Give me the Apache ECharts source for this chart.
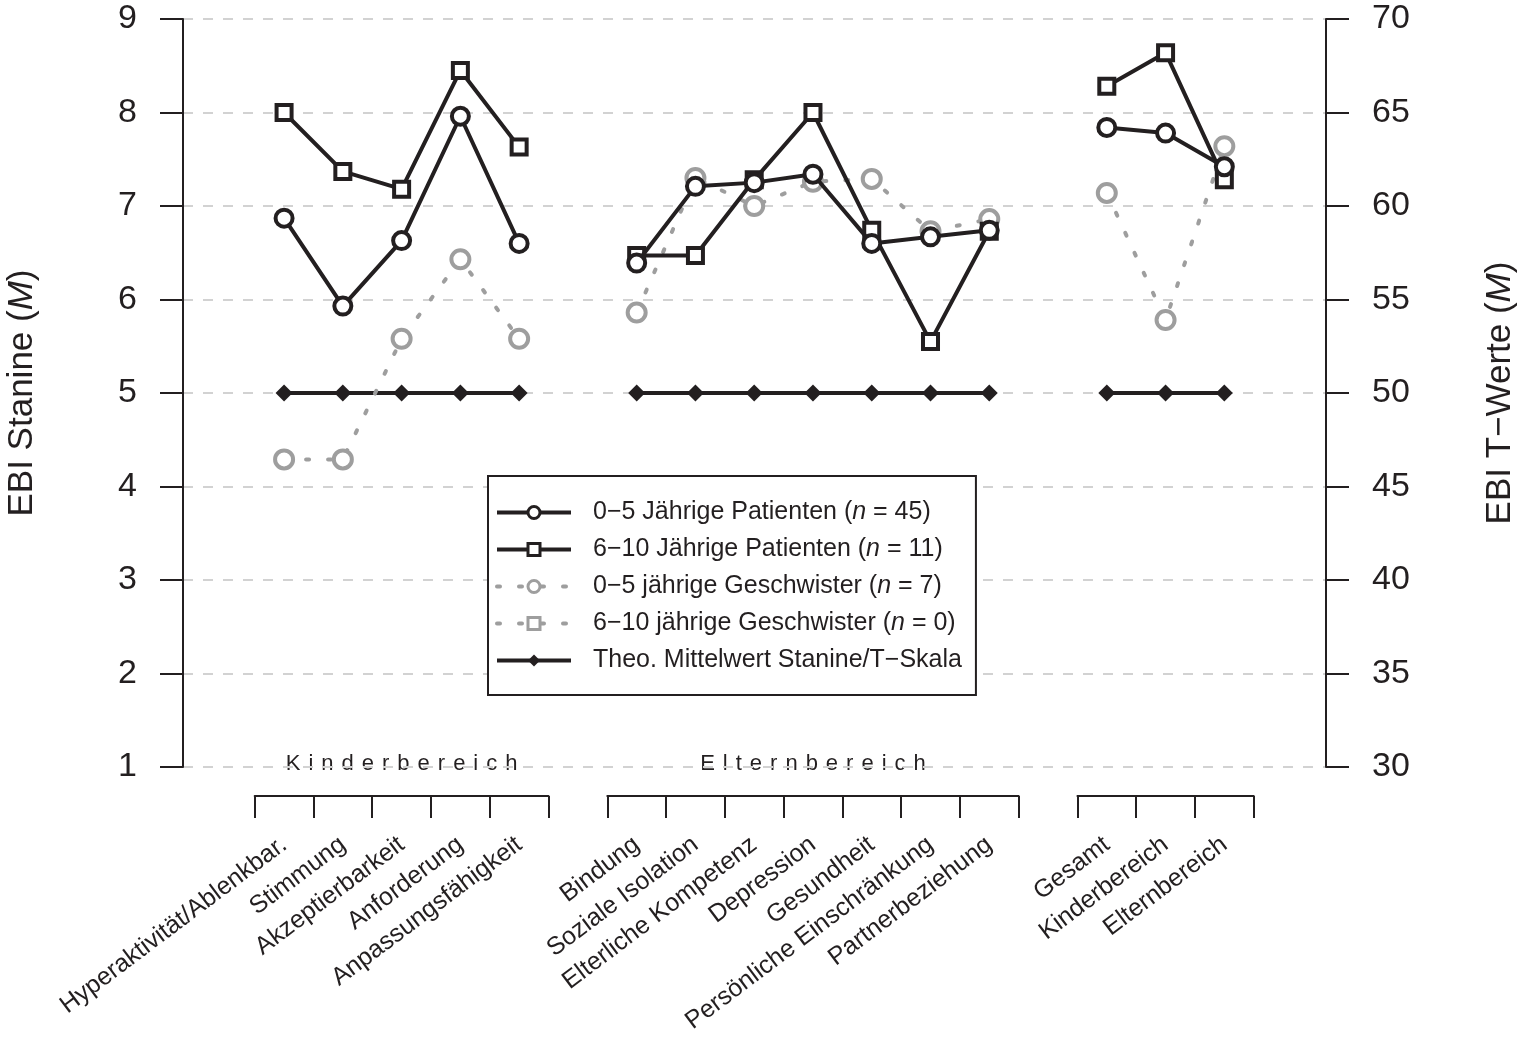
<!DOCTYPE html>
<html><head><meta charset="utf-8">
<script src="https://cdn.jsdelivr.net/npm/echarts@6/dist/echarts.min.js"></script>
<style>html,body{margin:0;padding:0;background:#fff}#c{width:1524px;height:1046px}</style>
</head><body><div id="c"></div><script>
// ---- data ----
const kinderCats = ['Hyperaktivität/Ablenkbar.', 'Stimmung', 'Akzeptierbarkeit', 'Anforderung', 'Anpassungsfähigkeit'];
const elternCats = ['Bindung', 'Soziale Isolation', 'Elterliche Kompetenz', 'Depression', 'Gesundheit', 'Persönliche Einschränkung', 'Partnerbeziehung'];
const gesamtCats = ['Gesamt', 'Kinderbereich', 'Elternbereich'];
const groupLabels = ['Kinderbereich', 'Elternbereich'];

const patienten05   = [6.87, 5.93, 6.63, 7.96, 6.60,  6.39, 7.21, 7.25, 7.34, 6.60, 6.67, 6.74,  7.84, 7.78, 7.42];
const patienten610  = [8.00, 7.37, 7.18, 8.45, 7.63,  6.47, 6.47, 7.28, 8.00, 6.74, 5.55, 6.73,  8.28, 8.64, 7.28];
const geschwister05 = [4.29, 4.29, 5.58, 6.43, 5.58,  5.86, 7.30, 7.00, 7.26, 7.29, 6.73, 6.86,  7.14, 5.78, 7.64];
const geschwister610 = [];
const theoMittel    = [5, 5, 5, 5, 5,  5, 5, 5, 5, 5, 5, 5,  5, 5, 5];

const staninTicks = [1, 2, 3, 4, 5, 6, 7, 8, 9];
const tWertTicks = [30, 35, 40, 45, 50, 55, 60, 65, 70];

const seriesNames = [
  '0\u22125 Jährige Patienten (n = 45)',
  '6\u221210 Jährige Patienten (n = 11)',
  '0\u22125 jährige Geschwister (n = 7)',
  '6\u221210 jährige Geschwister (n = 0)',
  'Theo. Mittelwert Stanine/T\u2212Skala'
];

// ---- layout ----
const INK = '#231f20';
const GRAY = '#9e9e9e';
const FONT = '"Liberation Sans", Arial, Helvetica, sans-serif';
const G = {left: 183, top: 19, width: 1143, height: 748};
const XMIN = -1.72, XMAX = 17.73;
const unit = G.width / (XMAX - XMIN);
const groups = [kinderCats, elternCats, gesamtCats];
const starts = [0, 6, 14];
const px = i => G.left + (i - XMIN) * unit;

function build(vals) {
  const out = [];
  let k = 0;
  groups.forEach((g, gi) => {
    if (gi > 0) out.push([starts[gi] - 1, null]);
    g.forEach((c, j) => { if (k < vals.length) out.push([starts[gi] + j, vals[k]]); k++; });
  });
  return vals.length ? out : [];
}

const grids = [{left: G.left, top: G.top, width: G.width, height: G.height, outerBoundsMode: 'none'}];
const xAxes = [{type: 'value', gridIndex: 0, min: XMIN, max: XMAX, show: false}];
const yAxes = [
  {type: 'value', gridIndex: 0, position: 'left', min: staninTicks[0], max: staninTicks[staninTicks.length - 1], interval: 1,
   axisLine: {show: true, onZero: false, lineStyle: {color: INK, width: 2}},
   axisTick: {show: true, length: 23, lineStyle: {color: INK, width: 2}},
   axisLabel: {fontSize: 34, color: INK, margin: 46, fontFamily: FONT},
   splitLine: {show: true, lineStyle: {color: '#d2d2d2', width: 2, type: [10, 10]}},
   name: 'EBI Stanine ({i|M})', nameLocation: 'middle', nameGap: 143,
   nameTextStyle: {fontSize: 35, color: INK, fontFamily: FONT, rich: {i: {fontSize: 35, fontStyle: 'italic', color: INK, fontFamily: FONT}}}},
  {type: 'value', gridIndex: 0, position: 'right', min: tWertTicks[0], max: tWertTicks[tWertTicks.length - 1], interval: 5,
   axisLine: {show: true, onZero: false, lineStyle: {color: INK, width: 2}},
   axisTick: {show: true, length: 23, lineStyle: {color: INK, width: 2}},
   axisLabel: {fontSize: 34, color: INK, margin: 46, fontFamily: FONT},
   splitLine: {show: false},
   name: 'EBI T\u2212Werte ({i|M})', nameLocation: 'middle', nameGap: 157,
   nameTextStyle: {fontSize: 35, color: INK, fontFamily: FONT, rich: {i: {fontSize: 35, fontStyle: 'italic', color: INK, fontFamily: FONT}}}}
];
groups.forEach((g, gi) => {
  const left = px(starts[gi] - 0.5);
  grids.push({left: left, width: g.length * unit, top: 780, height: 16, outerBoundsMode: 'none'});
  xAxes.push({type: 'category', gridIndex: gi + 1, data: g, position: 'bottom', boundaryGap: true,
    axisLine: {show: true, onZero: false, lineStyle: {color: INK, width: 2}},
    axisTick: {show: true, interval: 0, length: 22, lineStyle: {color: INK, width: 2}},
    axisLabel: {interval: 0, rotate: 37, margin: 46, fontSize: 25, color: INK, fontFamily: FONT},
    splitLine: {show: false}});
  yAxes.push({type: 'value', gridIndex: gi + 1, show: false});
});

const letterRich = {l: {fontSize: 22, padding: [0, 4, 0, 4], color: INK, fontFamily: FONT}};
const spaced = s => s.split('').map(ch => '{l|' + ch + '}').join('');
const graphics = groupLabels.map((t, i) => ({
  type: 'text', x: px(starts[i] + (groups[i].length - 1) / 2), y: 764, silent: true,
  style: {text: spaced(t), rich: letterRich, align: 'center', verticalAlign: 'middle', fill: INK, fontSize: 22, fontFamily: FONT}
}));

function lineSeries(name, vals, symbol, size, color, dashed, z) {
  return {
    type: 'line', name: name, data: build(vals), xAxisIndex: 0, yAxisIndex: 0,
    symbol: symbol, symbolSize: size, showSymbol: true, connectNulls: false, z: z,
    lineStyle: {color: color, width: 4, type: dashed ? [3, 19] : 'solid', cap: dashed ? 'round' : 'butt'},
    itemStyle: {color: '#fff', borderColor: color, borderWidth: 4},
    emphasis: {disabled: true}, animation: false
  };
}

const series = [
  {type: 'line', name: seriesNames[4], data: build(theoMittel), symbol: 'diamond', symbolSize: 17, z: 2,
   lineStyle: {color: INK, width: 4}, itemStyle: {color: INK, borderWidth: 0}, emphasis: {disabled: true}, animation: false},
  lineSeries(seriesNames[2], geschwister05, 'circle', 18, GRAY, true, 3),
  lineSeries(seriesNames[3], geschwister610, 'rect', 15, GRAY, true, 3),
  lineSeries(seriesNames[1], patienten610, 'rect', 15, INK, false, 4),
  lineSeries(seriesNames[0], patienten05, 'circle', 17, INK, false, 5)
];

const chart = echarts.init(document.getElementById('c'), null, {renderer: 'canvas'});
chart.setOption({
  backgroundColor: '#fff',
  animation: false,
  textStyle: {fontFamily: FONT},
  grid: grids, xAxis: xAxes, yAxis: yAxes,
  legend: {
    orient: 'vertical', left: 488, top: 476, itemWidth: 74, itemHeight: 15, itemGap: 12,
    padding: [24, 14, 22, 7], borderColor: INK, borderWidth: 2, backgroundColor: '#fff',
    selectedMode: false, data: seriesNames,
    lineStyle: {width: 4},
    itemStyle: {borderWidth: 3},
    formatter: n => n.replace('(n =', '({i|n} ='),
    textStyle: {fontSize: 25, color: INK, fontFamily: FONT, padding: [0, 0, 0, 17],
      rich: {i: {fontSize: 25, fontStyle: 'italic', color: INK, fontFamily: FONT}}}
  },
  graphic: graphics,
  series: series
});
</script></body></html>
